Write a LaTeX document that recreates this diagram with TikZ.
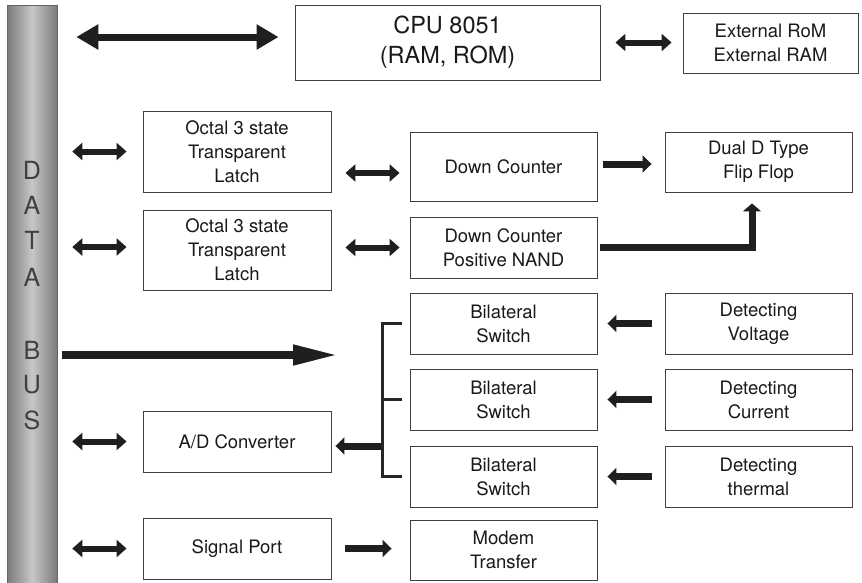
\documentclass[tikz,border=0pt]{standalone}
\usepackage{fontspec}
\setmainfont{TeX Gyre Heros}
\usetikzlibrary{arrows.meta, calc}

\begin{document}
\begin{tikzpicture}[x=1pt, y=-1pt, font=\fontsize{18.5}{24}\selectfont]%

    \tikzstyle{blk} = [ rectangle, draw = black!75, line width = 0.9pt, text = black!90, align = center, inner sep = 0pt, minimum width = 187pt, minimum height = 61pt]
    \tikzstyle{ltr} = [ inner sep = 0pt, text = black!75, font = \fontsize{25}{25}\selectfont]
    \tikzstyle{dbl} = [ {Triangle[length=10pt,width=17pt]}-{Triangle[length=10pt,width=17pt]}, line width = 6pt, draw = black!88]
    \tikzstyle{one} = [ -{Triangle[length=9pt,width=17pt]}, line width = 7pt, draw = black!88]
    \tikzstyle{brk} = [ line width = 2.2pt, draw = black!85]

    \useasboundingbox (0,0) rectangle (862,582);

    %% Data bus
    \node [draw = black!60, line width = 0.6pt, left color = black!52, right color = black!52, middle color = black!22, minimum width = 50pt, minimum height = 578pt, inner sep = 0pt] (bus) at (32,294) {};
    \foreach \ch/\y in {D/170, A/205, T/240, A/277, B/350, U/385, S/420}
        \node [ltr] (ltr\y) at (32,\y) {\ch};

    %% Blocks
    \node [blk, minimum width = 305pt, minimum height = 75pt, font = \fontsize{23.5}{30}\selectfont] (cpu) at (447.5,42.5) {CPU 8051\\(RAM, ROM)};
    \node [blk, minimum width = 175pt, minimum height = 60pt] (ext) at (770.5,43) {External RoM\\External RAM};

    \node [blk, minimum width = 188pt, minimum height = 81pt] (lat1) at (237,151.5) {Octal 3 state\\Transparent\\Latch};
    \node [blk, minimum width = 188pt, minimum height = 80pt] (lat2) at (237,250) {Octal 3 state\\Transparent\\Latch};
    \node [blk, minimum height = 69pt] (dc) at (503.5,166.5) {Down Counter};
    \node [blk] (nand) at (503.5,247.5) {Down Counter\\Positive NAND};
    \node [blk, minimum height = 60pt] (dual) at (758.5,162) {Dual D Type\\Flip Flop};

    \node [blk] (bil1) at (503.5,323.5) {Bilateral\\Switch};
    \node [blk] (bil2) at (503.5,399.5) {Bilateral\\Switch};
    \node [blk] (bil3) at (503.5,476.5) {Bilateral\\Switch};
    \node [blk] (det1) at (758.5,323.5) {Detecting\\Voltage};
    \node [blk] (det2) at (758.5,399.5) {Detecting\\Current};
    \node [blk] (det3) at (758.5,476.5) {Detecting\\thermal};

    \node [blk, minimum width = 188pt] (ad) at (237,441.5) {A/D Converter};
    \node [blk, minimum width = 188pt] (sig) at (237,548.5) {Signal Port};
    \node [blk, minimum height = 60pt] (modem) at (503.5,550) {Modem\\Transfer};

    %% Bus connections
    \coordinate (cpuin) at ([yshift=5.5pt]cpu.west);
    \draw [dbl, line width = 7pt, {Triangle[length=22pt,width=24pt]}-{Triangle[length=22pt,width=24pt]}, shorten <= 19pt, shorten >= 16pt] (bus.east |- cpuin) -- (cpuin);
    \draw [dbl, shorten <= 15pt, shorten >= 11pt] (cpu.east) -- (cpu.east -| ext.west);
    \coordinate (lat2in) at ([yshift=3pt]lat2.west);
    \draw [dbl, shorten <= 15pt, shorten >= 16pt] (bus.east |- lat1.west) -- (lat1.west);
    \draw [dbl, shorten <= 15pt, shorten >= 16pt] (bus.east |- lat2in) -- (lat2in);
    \draw [dbl, shorten <= 15pt, shorten >= 16pt] (bus.east |- ad.west) -- (ad.west);
    \draw [dbl, shorten <= 15pt, shorten >= 16pt] (bus.east |- sig.west) -- (sig.west);

    \coordinate (busend) at (338,355);
    \draw [one, line width = 7.5pt, -{Triangle[length=45pt,width=19pt]}, shorten <= 5pt] (bus.east |- busend) -- (busend);

    %% Counters
    \coordinate (dcin) at ([yshift=-6.5pt]dc.west);
    \draw [dbl, shorten <= 14pt, shorten >= 10pt] (lat1.east |- dcin) -- (dcin);
    \draw [dbl, shorten <= 14pt, shorten >= 10pt] (lat2.east |- nand.west) -- (nand.west);
    \coordinate (dualin) at ([yshift=-2pt]dual.west);
    \draw [one, shorten <= 6pt, shorten >= 13pt] (dc.east |- dualin) -- (dualin);
    \draw [one, -{Triangle[length=8pt,width=18pt]}, shorten <= 3pt, shorten >= 11pt] (nand.east) -| ([xshift=-6.5pt]dual.south);

    %% Switches
    \coordinate (brk) at ([xshift=-27pt]bil2.west);
    \draw [brk] ([xshift=-8pt]bil1.west) -| (brk |- bil3.west) -- ([xshift=-8pt]bil3.west);
    \draw [brk] (brk) -- ([xshift=-8pt]bil2.west);
    \coordinate (adin) at ([yshift=-4.5pt]ad.east);
    \draw [one, shorten <= 2pt, shorten >= 4pt] (brk |- adin) -- (adin);

    \draw [one, shorten <= 13pt, shorten >= 10pt] (det1.west) -- (bil1.east);
    \draw [one, shorten <= 13pt, shorten >= 10pt] (det2.west) -- (bil2.east);
    \draw [one, shorten <= 13pt, shorten >= 10pt] (det3.west) -- (bil3.east);

    \draw [one, shorten <= 14pt, shorten >= 18pt] (sig.east) -- (sig.east -| modem.west);

\end{tikzpicture}
\end{document}
